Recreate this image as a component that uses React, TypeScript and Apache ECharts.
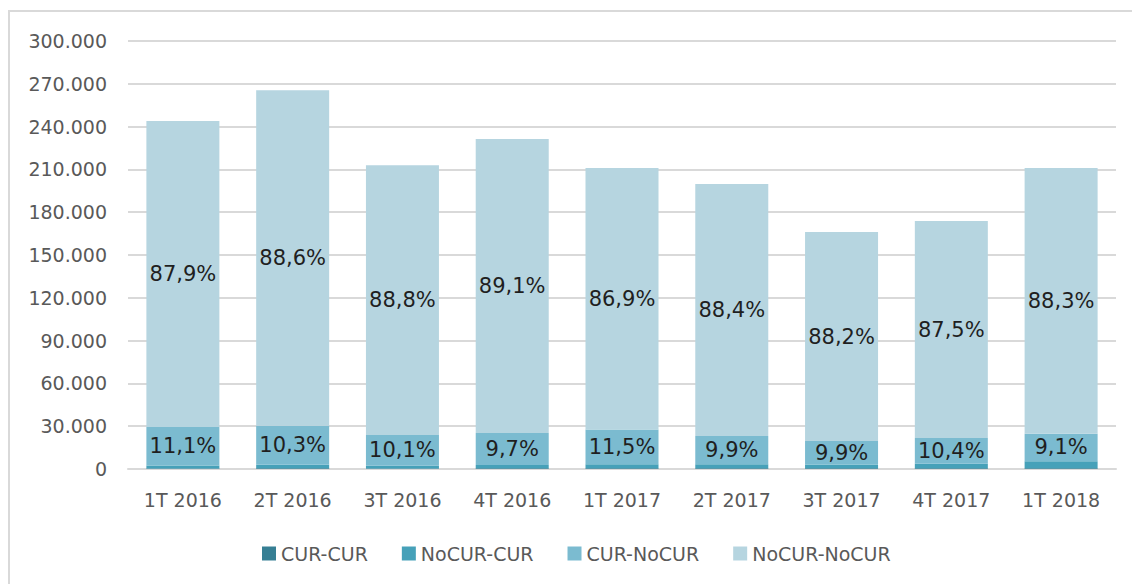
import React, { useEffect, useRef } from "react";
import * as echarts from "echarts";

const categories = ["1T 2016", "2T 2016", "3T 2016", "4T 2016", "1T 2017", "2T 2017", "3T 2017", "4T 2017", "1T 2018"];
const seriesNames = ["CUR-CUR", "NoCUR-CUR", "CUR-NoCUR", "NoCUR-NoCUR"];
const curCur = [400, 500, 400, 450, 500, 500, 450, 500, 600];
const noCurCur = [2040, 2420, 1940, 2330, 2880, 2900, 2710, 3150, 4890];
const curNoCur = [27080, 27350, 21510, 22440, 24270, 19780, 16440, 18080, 19200];
const noCurNoCur = [214480, 235230, 189140, 206090, 183360, 176620, 146500, 152080, 186310];
const curNoCurLabels = ["11,1%", "10,3%", "10,1%", "9,7%", "11,5%", "9,9%", "9,9%", "10,4%", "9,1%"];
const noCurNoCurLabels = ["87,9%", "88,6%", "88,8%", "89,1%", "86,9%", "88,4%", "88,2%", "87,5%", "88,3%"];
const colors = ["#367f94", "#46a1b9", "#7bbbd0", "#b6d5e0"];

const FONT = "DejaVu Sans";

function fmt(v: number): string {
  return String(v).replace(/\B(?=(\d{3})+(?!\d))/g, ".");
}

export default function App() {
  const ref = useRef<HTMLDivElement>(null);
  useEffect(() => {
    if (!ref.current) return;
    const chart = echarts.init(ref.current, undefined, { renderer: "svg" });
    const mk = (name: string, data: number[], color: string, labels: string[] | null) => ({
      name,
      type: "bar",
      stack: "total",
      data,
      barCategoryGap: "33.5%",
      itemStyle: { color },
      label: labels
        ? {
            show: true,
            position: "inside",
            fontFamily: FONT,
            fontSize: 21,
            color: "#1f1f1f",
            formatter: (p: any) => labels[p.dataIndex],
          }
        : { show: false },
      emphasis: { disabled: true },
    });
    chart.setOption({
      animation: false,
      backgroundColor: "#ffffff",
      color: colors,
      graphic: [
        {
          type: "rect",
          shape: { x: 9, y: 11, width: 1300, height: 800 },
          style: { fill: "none", stroke: "#d9d9d9", lineWidth: 2 },
          silent: true,
        },
      ],
      grid: { left: 128, right: 16, top: 41, bottom: 115, containLabel: false },
      legend: {
        left: 257,
        top: 539,
        itemWidth: 14,
        itemHeight: 14,
        itemGap: 34,
        icon: "rect",
        textStyle: { fontFamily: FONT, fontSize: 19, color: "#595959" },
        data: seriesNames,
      },
      xAxis: {
        type: "category",
        data: categories,
        axisLine: { lineStyle: { color: "#d9d9d9", width: 2 } },
        axisTick: { show: false },
        axisLabel: { fontFamily: FONT, fontSize: 19, color: "#595959", margin: 21 },
      },
      yAxis: {
        type: "value",
        min: 0,
        max: 300000,
        interval: 30000,
        axisLine: { show: false },
        axisTick: { show: false },
        splitLine: { lineStyle: { color: "#d9d9d9", width: 2 } },
        axisLabel: {
          fontFamily: FONT,
          fontSize: 19,
          color: "#595959",
          margin: 21,
          formatter: (v: number) => fmt(v),
        },
      },
      series: [
        mk(seriesNames[0], curCur, colors[0], null),
        mk(seriesNames[1], noCurCur, colors[1], null),
        mk(seriesNames[2], curNoCur, colors[2], curNoCurLabels),
        mk(seriesNames[3], noCurNoCur, colors[3], noCurNoCurLabels),
      ],
    });
    return () => chart.dispose();
  }, []);
  return (
    <div
      ref={ref}
      style={{ position: "fixed", left: 0, top: 0, width: 1132, height: 584 }}
    />
  );
}
